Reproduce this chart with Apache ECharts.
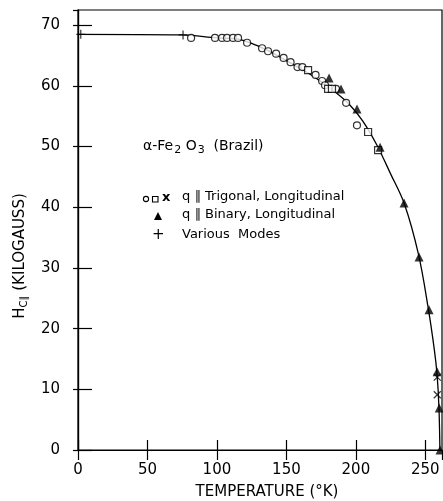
<!DOCTYPE html>
<html><head><meta charset="utf-8">
<script src="https://cdn.jsdelivr.net/npm/echarts@6/dist/echarts.min.js"></script>
<style>html,body{margin:0;padding:0;background:#fff}#c{width:443px;height:501px}</style>
</head><body><div id="c"></div>
<script>
// Data (T in K, H in kilogauss)
var curveT = [0, 75, 100, 115, 125, 135, 145, 155, 165, 175, 185, 195, 205, 215, 225, 235, 245, 252, 256.5, 258.5, 259.8, 260.5];
var curveH = [68.5, 68.4, 67.9, 67.7, 67.0, 66.0, 64.8, 63.5, 62.2, 60.7, 59.0, 57.0, 54.2, 50.3, 45.5, 40.5, 32.3, 23.5, 16.5, 12.3, 7.0, 0];

var circleT = [81.4, 98.6, 103.7, 107.3, 111.6, 115.2, 121.7, 132.5, 136.8, 142.6, 148, 153, 158, 161.5, 171, 175.7, 177.8, 185.7, 193, 200.8];
var circleH = [67.9, 67.9, 67.9, 67.9, 67.9, 67.9, 67.1, 66.2, 65.7, 65.3, 64.6, 63.9, 63.1, 63.1, 61.8, 60.8, 60.1, 59.5, 57.2, 53.5];

var squareT = [165.6, 180, 182.8, 208.8, 216];
var squareH = [62.6, 59.5, 59.5, 52.4, 49.4];

var crossT = [258.6, 258.6];
var crossH = [12.0, 9.1];

var triT = [180.7, 189.3, 200.8, 217.4, 234.7, 245.5, 252.7, 258.5, 260, 260.6];
var triH = [61.3, 59.5, 56.2, 49.9, 40.7, 31.8, 23.1, 12.9, 6.9, 0];

var plusT = [2, 75.6];
var plusH = [68.5, 68.4];

var xTicks = [0, 50, 100, 150, 200, 250];
var yTicks = [0, 10, 20, 30, 40, 50, 60, 70];

function pairs(a, b) { return a.map(function (v, i) { return [v, b[i]]; }); }

var FONT = 'DejaVu Sans';
var chart = echarts.init(document.getElementById('c'), null, {renderer: 'canvas'});
var X_PATH = 'path://M0,0L10,10M10,0L0,10';
var P_PATH = 'path://M5,0L5,10M0,5L10,5';

var option = {
  animation: false,
  backgroundColor: '#fff',
  grid: {left: 78, right: 1, top: 10, bottom: 51, show: true, borderColor: '#000', borderWidth: 1.2},
  xAxis: [{
    type: 'value', min: 0, max: 262, interval: 50, position: 'bottom',
    axisLine: {show: true, lineStyle: {color: '#000', width: 1.2}},
    axisTick: {show: true, inside: true, length: 10, lineStyle: {color: '#000', width: 1.2}},
    axisLabel: {fontFamily: FONT, fontSize: 15, color: '#000', margin: 13, showMaxLabel: false,
      formatter: function (v) { return xTicks.indexOf(v) >= 0 ? String(v) : ''; }},
    splitLine: {show: false}
  }, {
    type: 'value', min: 0, max: 262, interval: 50, position: 'top',
    axisLine: {show: true, lineStyle: {color: '#000', width: 1.2}},
    axisTick: {show: true, inside: true, length: 10, lineStyle: {color: '#000', width: 1.2}},
    axisLabel: {show: false}, splitLine: {show: false}
  }],
  yAxis: [{
    type: 'value', min: 0, max: 72.5, interval: 10, position: 'left',
    axisLine: {show: true, lineStyle: {color: '#000', width: 1.2}},
    axisTick: {show: true, inside: true, length: 14, lineStyle: {color: '#000', width: 1.2}},
    axisLabel: {fontFamily: FONT, fontSize: 15, color: '#000', margin: 18, showMaxLabel: false,
      formatter: function (v) { return yTicks.indexOf(v) >= 0 ? String(v) : ''; }},
    splitLine: {show: false}
  }, {
    type: 'value', min: 0, max: 72.5, interval: 10, position: 'right',
    axisLine: {show: true, lineStyle: {color: '#000', width: 1.2}},
    axisTick: {show: true, inside: true, length: 5, lineStyle: {color: '#000', width: 1.2}},
    axisLabel: {show: false}, splitLine: {show: false}
  }],
  series: [{
    type: 'line', data: pairs(curveT, curveH), smooth: 0.35, showSymbol: false,
    lineStyle: {color: '#000', width: 1.3}, z: 1
  }, {
    type: 'scatter', data: pairs(circleT, circleH), symbol: 'circle', symbolSize: 7,
    itemStyle: {color: '#fff', borderColor: '#000', borderWidth: 1.2}, z: 3
  }, {
    type: 'scatter', data: pairs(squareT, squareH), symbol: 'rect', symbolSize: 7,
    itemStyle: {color: '#fff', borderColor: '#000', borderWidth: 1.2}, z: 3
  }, {
    type: 'scatter', data: pairs(crossT, crossH), symbol: X_PATH, symbolSize: 7,
    itemStyle: {color: 'none', borderColor: '#000', borderWidth: 1.2}, z: 3
  }, {
    type: 'scatter', data: pairs(triT, triH), symbol: 'triangle', symbolSize: 9,
    itemStyle: {color: '#000'}, z: 4
  }, {
    type: 'scatter', data: pairs(plusT, plusH), symbol: P_PATH, symbolSize: 9,
    itemStyle: {color: 'none', borderColor: '#000', borderWidth: 1.2}, z: 3
  }],
  graphic: [
    {type: 'text', x: 267, y: 492, style: {text: 'TEMPERATURE (°K)', fontFamily: FONT, fontSize: 15, fill: '#000', align: 'center', verticalAlign: 'middle'}},
    {type: 'text', x: 20, y: 256, rotation: Math.PI / 2, style: {text: '{h|H}{s|C∥}{h| (KILOGAUSS)}', align: 'center', verticalAlign: 'middle', fill: '#000',
      rich: {h: {fontFamily: FONT, fontSize: 15, fill: '#000'}, s: {fontFamily: FONT, fontSize: 10, fill: '#000', padding: [9, 0, 0, 0]}}}},
    {type: 'text', left: 143, top: 139, style: {text: '{a|α-Fe}{s|2}{a| O}{s|3}{a|  (Brazil)}', fill: '#000',
      rich: {a: {fontFamily: FONT, fontSize: 14, fill: '#000'}, s: {fontFamily: FONT, fontSize: 11, fill: '#000', padding: [8, 0, 0, 1]}}}},
    {type: 'circle', shape: {cx: 146, cy: 199, r: 2.6}, style: {fill: '#fff', stroke: '#000', lineWidth: 1.1}},
    {type: 'rect', shape: {x: 152.5, y: 196.5, width: 5.5, height: 5.5}, style: {fill: '#fff', stroke: '#000', lineWidth: 1.1}},
    {type: 'text', left: 162, top: 191, style: {text: 'x', fontFamily: FONT, fontSize: 13, fontWeight: 'bold', fill: '#000'}},
    {type: 'text', left: 182, top: 190, style: {text: 'q ∥ Trigonal, Longitudinal', fontFamily: FONT, fontSize: 13, fill: '#000'}},
    {type: 'polygon', shape: {points: [[158, 212], [154, 220], [162, 220]]}, style: {fill: '#000'}},
    {type: 'text', left: 182, top: 208, style: {text: 'q ∥ Binary, Longitudinal', fontFamily: FONT, fontSize: 13, fill: '#000'}},
    {type: 'text', left: 152, top: 228, style: {text: '+', fontFamily: FONT, fontSize: 15, fill: '#000'}},
    {type: 'text', left: 182, top: 228, style: {text: 'Various  Modes', fontFamily: FONT, fontSize: 13, fill: '#000'}}
  ]
};
chart.setOption(option);
</script>
</body></html>
